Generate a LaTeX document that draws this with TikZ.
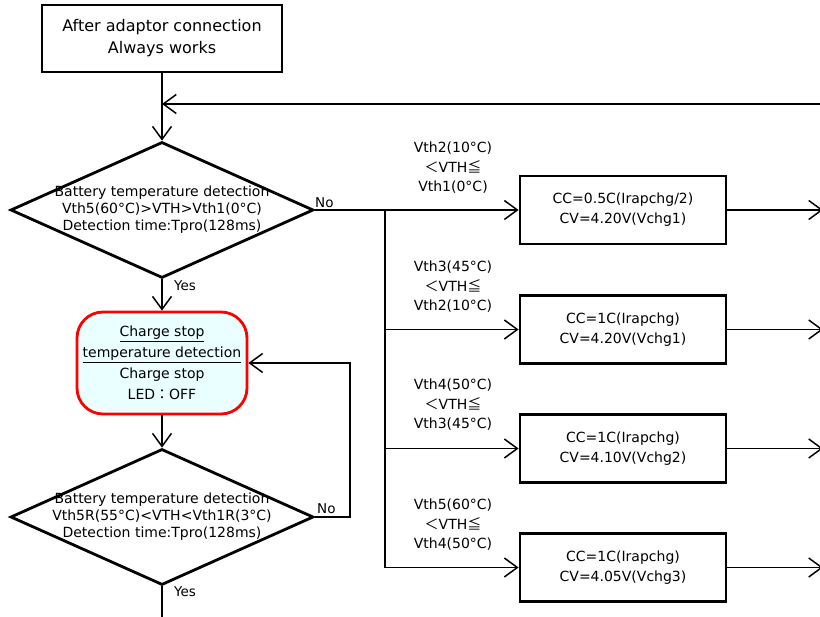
\documentclass[tikz,border=0pt]{standalone}
\usepackage{fontspec}
\setmainfont{DejaVu Sans}
\newfontfamily\jpfont{Noto Sans CJK JP}
\usetikzlibrary{shapes.geometric,arrows.meta}
\definecolor{stopfill}{HTML}{EAFFFF}
\tikzset{
  arr/.style={-{Straight Barb[length=13pt,width=19pt]}, line width=1.5pt},
  conn/.style={line width=1.5pt},
  procbox/.style={draw, line width=2.8pt, rectangle, minimum width=206pt, minimum height=68pt,
    align=center, font=\fontsize{14}{20}\selectfont},
  startbox/.style={draw, line width=2.8pt, rectangle, minimum width=240pt, minimum height=67pt,
    align=center, font=\fontsize{16}{22}\selectfont},
  decision/.style={draw, line width=2.8pt, diamond, inner sep=0pt, minimum width=303pt, minimum height=136pt},
  dtext/.style={align=center, font=\fontsize{14}{17}\selectfont},
  stopbox/.style={draw=red, fill=stopfill, line width=2.8pt, rectangle, rounded corners=26pt,
    minimum width=170pt, minimum height=102pt, align=center, font=\fontsize{14}{21}\selectfont},
  condlbl/.style={align=center, font=\fontsize{14}{19.5}\selectfont},
  yn/.style={font=\fontsize{13.5}{15}\selectfont, inner sep=1pt}
}
\begin{document}
\begin{tikzpicture}[x=1pt, y=-1pt]
  \useasboundingbox (0,0) rectangle (820,617);
  % left column
  \node[startbox] (start) at (162,38.5) {After adaptor connection\\Always works};
  \node[decision] (d1) at (162,210) {};
  \node[dtext] (d1t) at (d1) {Battery temperature detection\\Vth5(60°C)>VTH>Vth1(0°C)\\Detection time:Tpro(128ms)};
  \node[stopbox] (stop) at (162,363) {\underline{Charge stop}\\\underline{temperature detection}\\Charge stop\\LED{\jpfont ：}OFF};
  \node[decision] (d2) at (162,517) {};
  \node[dtext] (d2t) at (d2) {Battery temperature detection\\Vth5R(55°C)<VTH<Vth1R(3°C)\\Detection time:Tpro(128ms)};
  % charge boxes
  \node[procbox] (b1) at (623,210) {CC=0.5C(Irapchg/2)\\CV=4.20V(Vchg1)};
  \node[procbox] (b2) at (623,329.5) {CC=1C(Irapchg)\\CV=4.20V(Vchg1)};
  \node[procbox] (b3) at (623,448.5) {CC=1C(Irapchg)\\CV=4.10V(Vchg2)};
  \node[procbox] (b4) at (623,567.5) {CC=1C(Irapchg)\\CV=4.05V(Vchg3)};
  % condition labels
  \node[condlbl] (c1) at (453,168) {Vth2(10°C)\\{\jpfont ＜}VTH{\jpfont ≦}\\Vth1(0°C)};
  \node[condlbl] (c2) at (453,287) {Vth3(45°C)\\{\jpfont ＜}VTH{\jpfont ≦}\\Vth2(10°C)};
  \node[condlbl] (c3) at (453,405) {Vth4(50°C)\\{\jpfont ＜}VTH{\jpfont ≦}\\Vth3(45°C)};
  \node[condlbl] (c4) at (453,525) {Vth5(60°C)\\{\jpfont ＜}VTH{\jpfont ≦}\\Vth4(50°C)};
  % yes / no
  \node[yn, anchor=south west] (no1) at (314,209) {No};
  \node[yn, anchor=west] (yes1) at (173,286) {Yes};
  \node[yn, anchor=south west] (no2) at (316,515) {No};
  \node[yn, anchor=west] (yes2) at (173,592) {Yes};
  % free ends
  \coordinate (loopin) at (820,104);
  \coordinate (split) at (385,210);
  \coordinate (back) at (350,363);
  \coordinate (out) at (162,617);
  \coordinate (o1) at (823,210);
  \coordinate (o2) at (823,329.5);
  \coordinate (o3) at (823,448.5);
  \coordinate (o4) at (823,567.5);
  % connectors
  \draw[arr] (start.south) -- (d1.north);
  \draw[arr] (loopin) -- (start.south |- loopin);
  \draw[arr] (d1.south) -- (stop.north);
  \draw[arr] (stop.south) -- (d2.north);
  \draw[conn] (d2.south) -- (out);
  \draw[arr] (d2.east) -| (back) -- (stop.east);
  \draw[arr] (d1.east) -- (b1.west);
  \draw[arr] (split) |- (b2.west);
  \draw[arr] (split) |- (b3.west);
  \draw[arr] (split) |- (b4.west);
  \draw[arr] (b1.east) -- (o1);
  \draw[arr] (b2.east) -- (o2);
  \draw[arr] (b3.east) -- (o3);
  \draw[arr] (b4.east) -- (o4);
\end{tikzpicture}
\end{document}
